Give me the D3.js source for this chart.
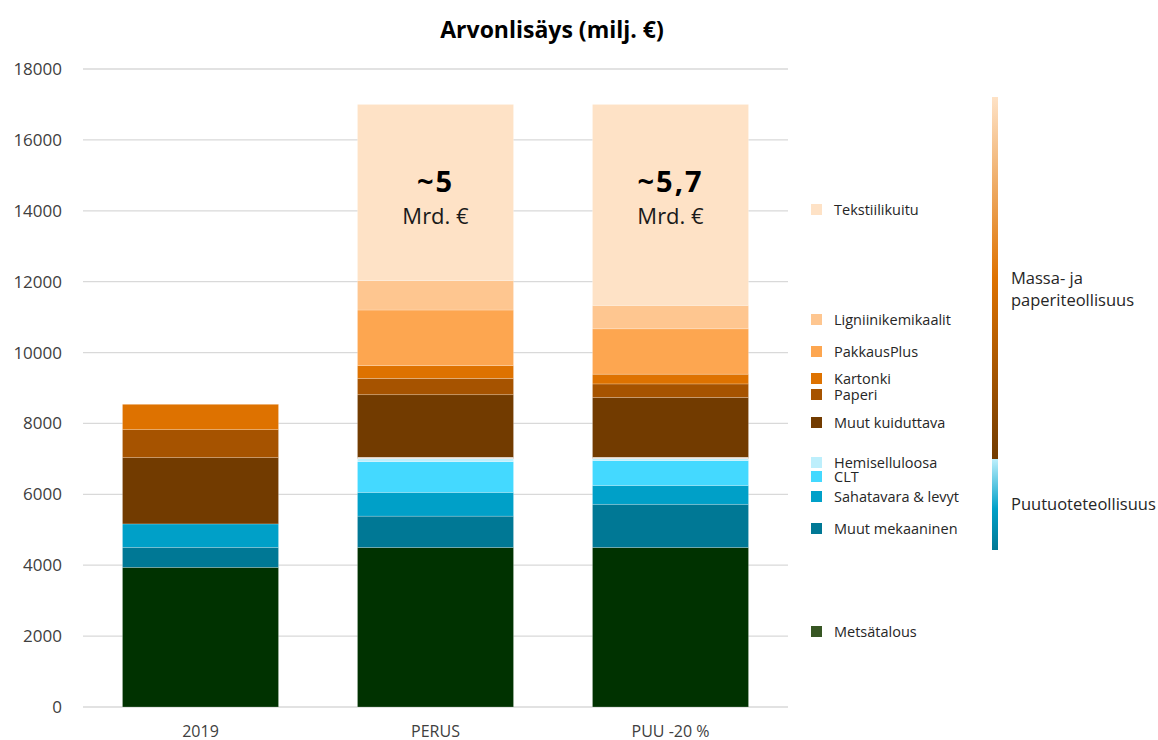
<!DOCTYPE html>
<meta charset="utf-8" />
<script src="https://d3js.org/d3.v7.min.js"></script>
<style>
  body { margin: 0; background: #fff; }
  text { font-family: "Open Sans", "Noto Sans", sans-serif; }
</style>
<div id="chart"></div>
<script>
  // categories and series (milj. €), bottom to top
  const scenarios = ["2019", "PERUS", "PUU -20 %"];
  const seriesNames = [
    "Metsätalous", "Muut mekaaninen", "Sahatavara & levyt", "CLT", "Hemiselluloosa",
    "Muut kuiduttava", "Paperi", "Kartonki", "PakkausPlus", "Ligniinikemikaalit", "Tekstiilikuitu"
  ];
  const metsatalous = [3940, 4500, 4500];
  const muutMekaaninen = [565, 885, 1220];
  const sahatavara = [660, 670, 530];
  const clt = [0, 865, 700];
  const hemiselluloosa = [0, 90, 60];
  const muutKuiduttava = [1870, 1800, 1720];
  const paperi = [790, 460, 385];
  const kartonki = [715, 360, 275];
  const pakkausPlus = [0, 1570, 1280];
  const ligniini = [0, 830, 660];
  const tekstiili = [0, 4970, 5670];
  const yTicks = [0, 2000, 4000, 6000, 8000, 10000, 12000, 14000, 16000, 18000];
  const notes = [null, "~5", "~5,7"];

  const colors = ["#003200", "#007895", "#00A0C8", "#44D9FF", "#BDEFFC",
    "#723B00", "#A65300", "#DE7200", "#FDA650", "#FEC690", "#FEE2C6"];
  const legendColors = colors.slice();
  legendColors[0] = "#375623";

  const values = [metsatalous, muutMekaaninen, sahatavara, clt, hemiselluloosa,
    muutKuiduttava, paperi, kartonki, pakkausPlus, ligniini, tekstiili];
  const table = scenarios.map((s, i) => {
    const row = { scenario: s };
    seriesNames.forEach((n, k) => (row[n] = values[k][i]));
    return row;
  });

  const W = 1158, H = 740;
  const svg = d3.select("#chart").append("svg").attr("width", W).attr("height", H);

  const x = d3.scaleBand().domain(scenarios).range([83, 788]).paddingInner(0.336).paddingOuter(0.168);
  const y = d3.scaleLinear().domain([0, 18000]).range([707, 69]);

  // gridlines
  svg.append("g")
    .selectAll("line")
    .data(yTicks)
    .join("line")
    .attr("x1", 83).attr("x2", 788)
    .attr("y1", (d) => y(d)).attr("y2", (d) => y(d))
    .attr("stroke", "#d9d9d9").attr("stroke-width", 1.3);

  // y tick labels
  svg.append("g")
    .selectAll("text")
    .data(yTicks)
    .join("text")
    .attr("x", 62).attr("y", (d) => y(d) + 6)
    .attr("text-anchor", "end")
    .style("font-size", "17px").style("fill", "#404040")
    .text((d) => d);

  // stacked bars
  const stack = d3.stack().keys(seriesNames)(table);
  svg.append("g")
    .selectAll("g")
    .data(stack)
    .join("g")
    .attr("fill", (d, i) => colors[i])
    .selectAll("rect")
    .data((d) => d)
    .join("rect")
    .attr("x", (d) => x(d.data.scenario))
    .attr("width", x.bandwidth())
    .attr("y", (d) => y(d[1]))
    .attr("height", (d) => y(d[0]) - y(d[1]))
    .attr("stroke", "#ffffff").attr("stroke-opacity", 0.35).attr("stroke-width", 0.6);

  // white separator between product groups
  svg.append("g")
    .selectAll("line")
    .data(stack[4].filter((d) => d[1] > d[0]))
    .join("line")
    .attr("x1", (d) => x(d.data.scenario)).attr("x2", (d) => x(d.data.scenario) + x.bandwidth())
    .attr("y1", (d) => y(d[1]) - 0.5).attr("y2", (d) => y(d[1]) - 0.5)
    .attr("stroke", "#ffffff").attr("stroke-width", 1.5);

  // x labels
  svg.append("g")
    .selectAll("text")
    .data(scenarios)
    .join("text")
    .attr("x", (d) => x(d) + x.bandwidth() / 2)
    .attr("y", 737)
    .attr("text-anchor", "middle")
    .style("font-size", "16px").style("fill", "#404040")
    .text((d) => d);

  // notes on bars
  const noteG = svg.append("g");
  scenarios.forEach((s, i) => {
    if (!notes[i]) return;
    const cx = x(s) + x.bandwidth() / 2;
    noteG.append("text")
      .attr("x", cx).attr("y", 192)
      .attr("text-anchor", "middle")
      .style("font-size", "29px").style("font-weight", "bold").style("fill", "#000")
      .style("letter-spacing", "2px")
      .text(notes[i]);
    noteG.append("text")
      .attr("x", cx).attr("y", 224)
      .attr("text-anchor", "middle")
      .style("font-size", "22px").style("fill", "#1a1a1a")
      .text("Mrd. €");
  });

  // title
  svg.append("text")
    .attr("x", 552).attr("y", 38)
    .attr("text-anchor", "middle")
    .style("font-size", "23px").style("font-weight", "bold").style("fill", "#000")
    .text("Arvonlisäys (milj. €)");

  // legend
  const legendY = [632, 529, 497, 477, 463, 423, 395, 379, 352, 320, 210];
  const legend = svg.append("g")
    .selectAll("g")
    .data(seriesNames)
    .join("g")
    .attr("transform", (d, i) => `translate(811,${legendY[i]})`);
  legend.append("rect")
    .attr("x", 0).attr("y", -6).attr("width", 11).attr("height", 11)
    .attr("fill", (d, i) => legendColors[i]);
  legend.append("text")
    .attr("x", 23).attr("y", 5)
    .style("font-size", "14.5px").style("fill", "#262626")
    .text((d) => d);

  // group gradient bars
  const defs = svg.append("defs");
  const g1 = defs.append("linearGradient").attr("id", "gradMassa")
    .attr("x1", 0).attr("x2", 0).attr("y1", 0).attr("y2", 1);
  g1.append("stop").attr("offset", "0%").attr("stop-color", colors[10]);
  g1.append("stop").attr("offset", "50%").attr("stop-color", colors[7]);
  g1.append("stop").attr("offset", "100%").attr("stop-color", colors[5]);
  const g2 = defs.append("linearGradient").attr("id", "gradPuu")
    .attr("x1", 0).attr("x2", 0).attr("y1", 0).attr("y2", 1);
  g2.append("stop").attr("offset", "0%").attr("stop-color", colors[4]);
  g2.append("stop").attr("offset", "55%").attr("stop-color", colors[2]);
  g2.append("stop").attr("offset", "100%").attr("stop-color", colors[1]);

  svg.append("rect").attr("x", 992).attr("y", 97).attr("width", 6).attr("height", 362)
    .attr("fill", "url(#gradMassa)");
  svg.append("rect").attr("x", 992).attr("y", 459).attr("width", 6).attr("height", 91)
    .attr("fill", "url(#gradPuu)");

  const groupLabel = svg.append("g").style("font-size", "16.5px").style("fill", "#262626");
  groupLabel.append("text").attr("x", 1011).attr("y", 284).text("Massa- ja");
  groupLabel.append("text").attr("x", 1011).attr("y", 306).text("paperiteollisuus");
  groupLabel.append("text").attr("x", 1011).attr("y", 510).text("Puutuoteteollisuus");
</script>
